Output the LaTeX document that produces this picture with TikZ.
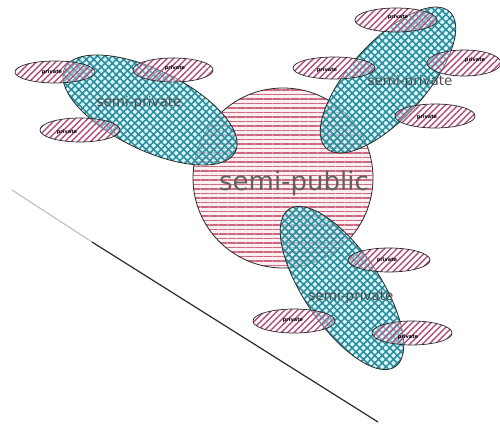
\documentclass[tikz,border=0pt]{standalone}
\usepackage{fontspec}
\newfontfamily\lblfont{DejaVu Sans}
\usetikzlibrary{patterns.meta}
\definecolor{pubfill}{HTML}{FCEEF1}
\definecolor{publine}{HTML}{C25068}
\definecolor{semifill}{HTML}{C4F2F6}
\definecolor{semiline}{HTML}{2A8E9F}
\definecolor{privline}{HTML}{B04C7C}
\definecolor{outl}{HTML}{2A2A2A}
\newcommand{\rotell}[6]{%
  \path[#1] plot[domain=0:355,samples=72,smooth cycle]
   ({#2+#4*cos(\x)*cos(#6)-#5*sin(\x)*sin(#6)},{#3+#4*cos(\x)*sin(#6)+#5*sin(\x)*cos(#6)});}
\tikzset{
  pubarea/.style={preaction={fill=pubfill},
    pattern={Lines[angle=0,distance=4.5pt,line width=1.05pt]},pattern color=publine!85,
    draw=outl,line width=0.8pt},
  semiarea/.style={preaction={fill=semifill,fill opacity=0.6},
    pattern={Hatch[angle=45,distance=5.3pt,line width=1.6pt]},pattern color=semiline,
    draw=outl,line width=0.8pt},
  privarea/.style={preaction={fill=white,fill opacity=0.35},
    pattern={Lines[angle=45,distance=4.5pt,line width=1.4pt]},pattern color=privline,
    draw=outl,line width=0.7pt},
  publbl/.style={font=\lblfont\fontsize{26}{28}\selectfont,text=black!62,inner sep=0pt},
  semilbl/.style={font=\lblfont\fontsize{13.5}{15}\selectfont,text=black!70,inner sep=0pt},
  privlbl/.style={font=\lblfont\bfseries\fontsize{5}{6}\selectfont,text=black,inner sep=0pt}
}
\begin{document}
\begin{tikzpicture}[x=1pt,y=1pt]
\useasboundingbox (0,0) rectangle (500,423);
% diagonal line
\coordinate (l0) at (12,233);
\coordinate (l1) at (92,181);
\coordinate (l2) at (378,1);
\draw[black!25,line width=1.1pt] (l0) -- (l1);
\draw[outl,line width=1.2pt] (l1) -- (l2);
% semi-public circle
\path[pubarea] (283,245) circle (90);
% semi-private ellipses
\rotell{semiarea}{150}{313}{95}{40}{-26}
\rotell{semiarea}{388}{343}{92}{38}{48}
\rotell{semiarea}{342}{135}{95}{38}{-56}
% private ellipses
\path[privarea] (55,351) ellipse (40 and 11);
\path[privarea] (173,353) ellipse (40 and 12);
\path[privarea] (80,293) ellipse (40 and 12);
\path[privarea] (396,403) ellipse (41 and 12);
\path[privarea] (334,355) ellipse (41 and 11);
\path[privarea] (464,360) ellipse (37 and 13);
\path[privarea] (435,307) ellipse (40 and 12);
\path[privarea] (389,163) ellipse (41 and 12);
\path[privarea] (294,102) ellipse (41 and 12);
\path[privarea] (412,90) ellipse (40 and 12);
% labels
\node[publbl] (pub) at (294,240) {semi-public};
\node[semilbl] (s1) at (139,320) {semi-private};
\node[semilbl] (s2) at (410,341) {semi-private};
\node[semilbl] (s3) at (351,126) {semi-private};
\node[privlbl] (p1) at (52,351) {private};
\node[privlbl] (p2) at (175,355) {private};
\node[privlbl] (p3) at (67,291) {private};
\node[privlbl] (p4) at (398,406) {private};
\node[privlbl] (p5) at (327,353) {private};
\node[privlbl] (p6) at (475,363) {private};
\node[privlbl] (p7) at (427,306) {private};
\node[privlbl] (p8) at (387,163) {private};
\node[privlbl] (p9) at (293,103) {private};
\node[privlbl] (p10) at (408,86) {private};
\end{tikzpicture}
\end{document}
